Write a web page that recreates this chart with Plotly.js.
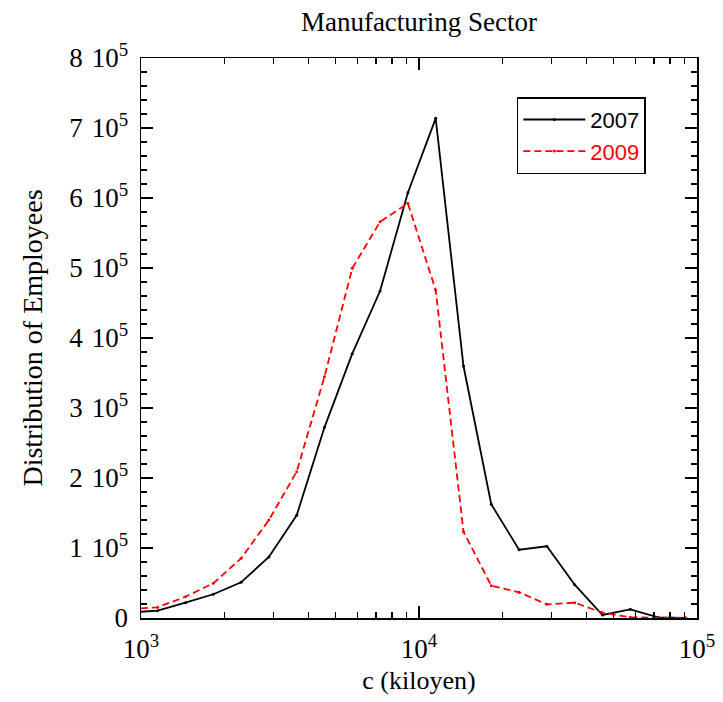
<!DOCTYPE html>
<html>
<head>
<meta charset="utf-8">
<script src="https://cdn.plot.ly/plotly-3.0.1.min.js"></script>
<style>html,body{margin:0;padding:0;background:#fff;}</style>
</head>
<body>
<div id="chart" style="width:723px;height:702px;"></div>
<script>
// Income class c (kiloyen), log-spaced bins
const cValues = [912, 1148, 1445, 1820, 2291, 2884, 3631, 4571, 5754, 7244, 9120,
                 11482, 14454, 18197, 22909, 28840, 36308, 45709, 57544, 72444, 91201];
// Distribution of employees, 2007
const emp2007 = [8000, 10400, 21900, 33900, 51000, 87100, 146700, 272400, 377600, 467100, 607600,
                 713800, 360000, 162400, 97600, 102400, 47600, 4300, 12400, 1000, 0];
// Distribution of employees, 2009
const emp2009 = [12800, 15300, 30400, 49500, 85200, 140000, 209000, 344700, 499600, 566000, 592400,
                 468600, 123300, 46200, 36700, 19500, 21900, 7600, 1000, 0, 0];

const xTickVals = [1000, 10000, 100000];
const xTickText = ['10<sup>3</sup>', '10<sup>4</sup>', '10<sup>5</sup>'];
const xMinorVals = [2000, 3000, 4000, 5000, 6000, 7000, 8000, 9000,
                    20000, 30000, 40000, 50000, 60000, 70000, 80000, 90000];
const yTickVals = [0, 100000, 200000, 300000, 400000, 500000, 600000, 700000, 800000];
const yTickText = ['0', '1 \u200A10<sup>5</sup>', '2 \u200A10<sup>5</sup>', '3 \u200A10<sup>5</sup>', '4 \u200A10<sup>5</sup>',
                   '5 \u200A10<sup>5</sup>', '6 \u200A10<sup>5</sup>', '7 \u200A10<sup>5</sup>', '8 \u200A10<sup>5</sup>'];

const serif = 'Liberation Serif, Times New Roman, serif';

const traces = [
  {
    x: cValues, y: emp2007, name: '2007', type: 'scatter', mode: 'lines+markers',
    line: {color: '#000000', width: 1.8},
    marker: {color: '#000000', size: 3}
  },
  {
    x: cValues, y: emp2009, name: '<span style="color:#ff0000">2009</span>', type: 'scatter', mode: 'lines+markers',
    line: {color: '#ff0000', width: 1.8, dash: '7px,4px'},
    marker: {color: '#ff0000', size: 3}
  }
];

const layout = {
  width: 723, height: 702,
  margin: {l: 141, r: 26, t: 58, b: 84, pad: 0},
  paper_bgcolor: '#ffffff', plot_bgcolor: '#ffffff',
  showlegend: true,
  title: {text: 'Manufacturing Sector', font: {family: serif, size: 27, color: '#000'},
          xref: 'paper', x: 0.5, xanchor: 'center', yref: 'container', y: 0.969, yanchor: 'middle'},
  xaxis: {
    type: 'log', range: [3, 5],
    tickmode: 'array', tickvals: xTickVals, ticktext: xTickText,
    ticks: 'inside', ticklen: 12, tickwidth: 1.3, tickcolor: '#000',
    minor: {tickmode: 'array', tickvals: xMinorVals, ticks: 'inside', ticklen: 6, tickwidth: 1.3, tickcolor: '#000'},
    showline: true, linecolor: '#000', linewidth: 1.5, mirror: 'allticks',
    showgrid: false, zeroline: false,
    ticklabelstandoff: 6,
    tickfont: {family: serif, size: 27, color: '#000'},
    title: {text: 'c (kiloyen)', font: {family: serif, size: 26, color: '#000'}, standoff: 8}
  },
  yaxis: {
    range: [0, 800000],
    tickmode: 'array', tickvals: yTickVals, ticktext: yTickText,
    ticks: 'inside', ticklen: 12, tickwidth: 1.3, tickcolor: '#000',
    minor: {dtick: 20000, ticks: 'inside', ticklen: 6, tickwidth: 1.3, tickcolor: '#000'},
    showline: true, linecolor: '#000', linewidth: 1.5, mirror: 'allticks',
    showgrid: false, zeroline: false,
    ticklabelstandoff: 6,
    tickfont: {family: serif, size: 27, color: '#000'},
    title: {text: 'Distribution of Employees', font: {family: serif, size: 28, color: '#000'}, standoff: 18}
  },
  legend: {
    x: 0.676, y: 0.93, xanchor: 'left', yanchor: 'top',
    bgcolor: '#ffffff', bordercolor: '#000', borderwidth: 1.5,
    font: {family: 'Liberation Sans, Arial, sans-serif', size: 22, color: '#000'},
    itemwidth: 62, tracegroupgap: 4
  }
};

Plotly.newPlot('chart', traces, layout, {displayModeBar: false, staticPlot: true});
</script>
</body>
</html>
